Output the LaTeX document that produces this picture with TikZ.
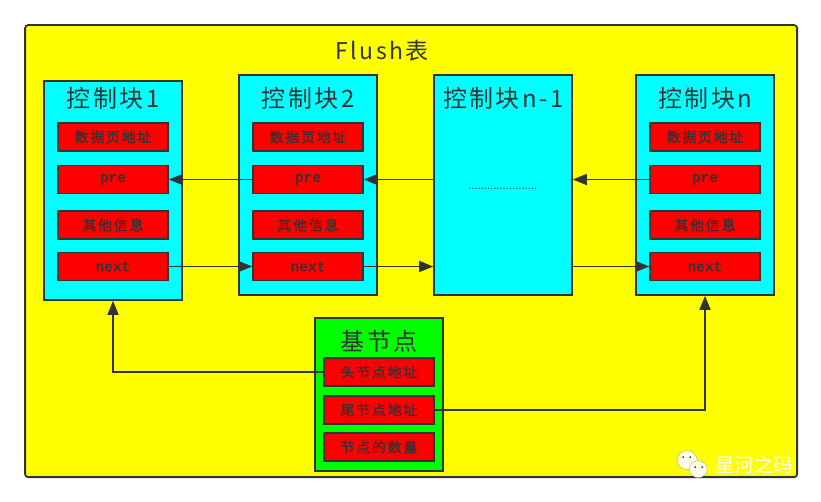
\documentclass[tikz,border=0pt]{standalone}
\usepackage{fontspec}
\setmainfont{Liberation Sans}
\newfontfamily\cjkt[LetterSpace=10]{Noto Sans CJK SC}
\newfontfamily\cjks[LetterSpace=12,FakeBold=1]{Noto Sans CJK SC}
\newfontfamily\cjkw{Noto Sans CJK SC}
\newfontfamily\monob[FakeBold=2]{Liberation Mono}
\usetikzlibrary{arrows.meta,calc}
\definecolor{ink}{HTML}{333333}
\definecolor{paneyellow}{RGB}{255,255,0}
\definecolor{panecyan}{RGB}{0,255,255}
\definecolor{panegreen}{RGB}{0,255,0}
\definecolor{panered}{RGB}{255,0,0}
\tikzset{
 x=1pt,y=-1pt,
 outerbox/.style={draw=ink,line width=1.8pt,fill=paneyellow,rounded corners=3pt},
 blockbox/.style={draw=ink,line width=1.6pt,fill=panecyan,inner sep=0pt},
 basebox/.style={draw=ink,line width=1.6pt,fill=panegreen,inner sep=0pt},
 redbox/.style={draw=ink,line width=1.6pt,fill=panered,inner sep=0pt,minimum width=110pt,minimum height=28pt,text=ink},
 cjklabel/.style={redbox,font=\cjks\fontsize{14}{14}\selectfont},
 monolabel/.style={redbox,font=\monob\fontsize{14.5}{14}\selectfont},
 titlelabel/.style={inner sep=0pt,text=ink,font=\cjkt\fontsize{24}{26}\selectfont},
 link/.style={draw=ink,line width=1.7pt,-{Triangle[length=14pt,width=11pt]}},
}
\newcommand{\blockat}[5]{% name, left, top, bottom, title
 \node[blockbox,anchor=north west,minimum width=138pt,minimum height={(#4)-(#3)}] (#1) at (#2,#3) {};
 \node[titlelabel] (#1title) at ({#2+70},99.5) {#5};
}
\newcommand{\fieldsat}[2]{% prefix, left
 \node[cjklabel,anchor=north west] (#1data) at (#2,123) {数据页地址};
 \node[monolabel,anchor=north west] (#1pre) at (#2,165.5) {pre};
 \node[cjklabel,anchor=north west] (#1info) at (#2,211) {其他信息};
 \node[monolabel,anchor=north west] (#1next) at (#2,252.5) {next};
}
\begin{document}
\begin{tikzpicture}
\useasboundingbox (0.8,0.8) rectangle (821.8,502.8);
\node[outerbox,anchor=north west,minimum width=772pt,minimum height=452pt,inner sep=0pt] (outer) at (25,25) {};
\node[inner sep=0pt,text=ink,font=\cjkt\fontsize{23}{24}\selectfont] (flush) at (383,52) {Flush表};
\blockat{ba}{44}{81}{300}{控制块1}
\blockat{bb}{239}{75}{295}{控制块2}
\blockat{bc}{434}{75}{295}{控制块n-1}
\blockat{bd}{636}{75}{295}{控制块n}
\fieldsat{a}{58}
\fieldsat{b}{253}
\fieldsat{d}{650}
\node[inner sep=0pt,text=ink,font=\fontsize{11.3}{11}\selectfont] (dots) at (503.5,190) {......................};
\node[basebox,anchor=north west,minimum width=128pt,minimum height=153pt] (base) at (315,318) {};
\node[titlelabel] (basetitle) at (380,342) {基节点};
\node[cjklabel,anchor=north west] (head) at (324,358) {头节点地址};
\node[cjklabel,anchor=north west] (tail) at (324,396) {尾节点地址};
\node[cjklabel,anchor=north west] (count) at (324,433) {节点的数量};
% connectors
\draw[link] (bpre.west) -- (apre.east);
\draw[link] (bc.west |- bpre.east) -- (bpre.east);
\draw[link] (dpre.west) -- (bc.east |- dpre.west);
\draw[link] (anext.east) -- (bnext.west);
\draw[link] (bnext.east) -- (bc.west |- bnext.east);
\draw[link] (bc.east |- dnext.west) -- (dnext.west);
\draw[link] (head.west) -| (ba.south);
\draw[link] (tail.east) -| (bd.south);
% watermark
\fill[white!90!yellow,draw=ink!60,line width=.2pt] (688,461) ellipse (10pt and 9.5pt);
\fill[white!90!yellow,draw=ink!60,line width=.2pt] (699,470) ellipse (9pt and 8.5pt);
\fill[ink] (684,458) circle (1pt) (691,458) circle (1pt) (696,468) circle (1pt) (703,468) circle (1pt);
\node[inner sep=0pt,text=white,font=\cjkw\fontsize{19.5}{20}\selectfont] (mark) at (755,466) {星河之码};
\end{tikzpicture}
\end{document}
